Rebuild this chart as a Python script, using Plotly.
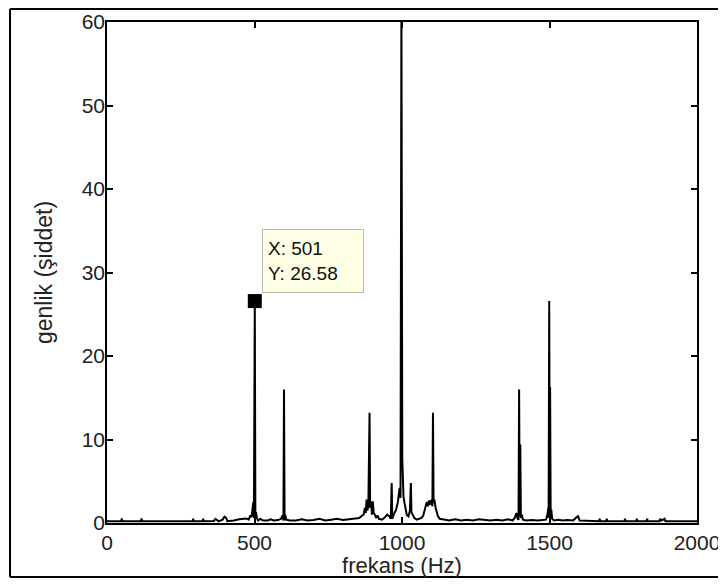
import plotly.graph_objects as go

# Spectrum samples (Hz, amplitude)
freq = [0, 20, 48, 50, 52, 115, 117, 119, 180, 240, 290, 292, 294, 324, 326, 328,
        362, 368, 372, 378, 392, 398, 404, 408, 412, 430, 448, 460, 472, 480, 486,
        490, 494, 496, 498, 501, 503, 505, 508, 512, 520, 530, 545, 555, 565, 580,
        590, 595, 598, 600, 602, 604, 608, 620, 640, 660, 680, 700, 720, 740, 760,
        780, 800, 820, 840, 855, 865, 870, 874, 877, 880, 883, 886, 890, 892, 895,
        898, 901, 904, 908, 912, 917, 922, 932, 942, 950, 957, 962, 965, 967, 972,
        980, 986, 989, 992, 995, 998, 1001, 1003, 1005, 1008, 1012, 1016, 1022,
        1027, 1030, 1032, 1036, 1042, 1050, 1058, 1066, 1072, 1077, 1080, 1084,
        1088, 1092, 1096, 1100, 1103, 1105, 1107, 1110, 1114, 1118, 1122, 1128,
        1140, 1160, 1180, 1200, 1220, 1240, 1260, 1280, 1300, 1320, 1340, 1360,
        1375, 1382, 1388, 1392, 1395, 1397, 1399, 1401, 1403, 1406, 1410, 1420,
        1440, 1460, 1475, 1488, 1493, 1496, 1497, 1499, 1501, 1502, 1504, 1506,
        1509, 1515, 1530, 1545, 1560, 1580, 1592, 1597, 1602, 1630, 1668, 1670,
        1672, 1692, 1694, 1696, 1754, 1756, 1758, 1794, 1796, 1798, 1829, 1831,
        1833, 1873, 1875, 1880, 1890, 1893, 1950, 2000]
amp = [0.2, 0.2, 0.2, 0.55, 0.2, 0.2, 0.55, 0.2, 0.2, 0.25, 0.2, 0.5, 0.2, 0.2, 0.5, 0.2,
       0.25, 0.5, 0.35, 0.2, 0.4, 0.75, 0.6, 0.2, 0.25, 0.3, 0.45, 0.5, 0.55, 0.4, 0.9,
       0.7, 2.5, 2.5, 0.6, 26.58, 0.5, 1.3, 0.6, 0.3, 0.5, 0.3, 0.3, 0.45, 0.3, 0.35,
       0.5, 0.9, 0.3, 16.0, 0.3, 1.0, 0.4, 0.3, 0.3, 0.45, 0.3, 0.35, 0.5, 0.3, 0.4,
       0.5, 0.35, 0.45, 0.5, 0.6, 0.9, 1.0, 1.8, 1.2, 2.8, 1.5, 2.2, 13.2, 1.8, 2.6,
       1.0, 2.6, 1.2, 1.0, 0.6, 0.9, 0.5, 0.4, 0.7, 1.0, 0.8, 0.5, 4.8, 0.5, 1.0,
       1.6, 2.5, 3.2, 4.2, 3.0, 62.0, 7.7, 4.2, 3.2, 2.5, 1.5, 1.0, 0.8,
       1.5, 4.8, 1.3, 1.0, 0.6, 0.4, 0.5, 0.6, 0.9, 1.6, 2.0, 2.5,
       2.0, 2.7, 2.2, 2.8, 2.0, 13.2, 2.4, 2.8, 1.8, 1.2, 0.8, 0.5,
       0.4, 0.3, 0.45, 0.3, 0.4, 0.3, 0.45, 0.35, 0.3, 0.4, 0.3, 0.45,
       0.3, 0.6, 1.2, 0.5, 0.4, 16.0, 0.8, 9.4, 0.6, 1.0, 0.4, 0.3,
       0.35, 0.3, 0.4, 0.4, 1.0, 1.8, 0.6, 26.6, 0.6, 16.3, 0.5, 1.6,
       0.5, 0.3, 0.4, 0.3, 0.35, 0.3, 0.7, 0.8, 0.3, 0.25, 0.2, 0.5,
       0.2, 0.2, 0.5, 0.2, 0.2, 0.5, 0.2, 0.2, 0.5, 0.2, 0.2, 0.5,
       0.2, 0.2, 0.5, 0.3, 0.5, 0.2, 0.2, 0.2]

tip_x = [501]
tip_y = [26.58]

x_ticks = [0, 500, 1000, 1500, 2000]
y_ticks = [0, 10, 20, 30, 40, 50, 60]

FONT = "Liberation Sans"

fig = go.Figure()
fig.add_trace(go.Scatter(x=freq, y=amp, mode="lines",
                         line=dict(color="black", width=2), showlegend=False,
                         hoverinfo="skip"))
fig.add_trace(go.Scatter(x=tip_x, y=tip_y, mode="markers",
                         marker=dict(symbol="square", size=14, color="black"),
                         showlegend=False))

fig.add_annotation(x=525, y=35.2, xref="x", yref="y", xanchor="left", yanchor="top",
                   showarrow=False, align="left",
                   text=f"X: {tip_x[0]}<br>Y: {tip_y[0]:.2f}",
                   font=dict(family=FONT, size=19, color="#111"),
                   bgcolor="#FFFFE6", bordercolor="#BBBBAA", borderwidth=1,
                   borderpad=5, width=90, height=52)

# outer figure frame (four edges)
fx0, fx1, fy0, fy1 = -0.1644, 1.0373, -0.1078, 1.026
frame = dict(color="black", width=2)
for (a, b, c, d) in [(fx0, fy0, fx0, fy1), (fx1, fy0, fx1, fy1),
                     (fx0, fy0, fx1, fy0), (fx0, fy1, fx1, fy1)]:
    fig.add_shape(type="line", xref="paper", yref="paper",
                  x0=a, y0=b, x1=c, y1=d, line=frame)

axis_common = dict(showgrid=False, zeroline=False, showline=True, linecolor="black",
                   linewidth=1.5, mirror="ticks", ticks="inside", ticklen=6,
                   tickwidth=1.5, tickcolor="black",
                   tickfont=dict(family=FONT, size=21, color="#222"))

fig.update_xaxes(range=[0, 2000], tickvals=x_ticks, ticktext=[str(v) for v in x_ticks],
                 title=dict(text="frekans (Hz)", font=dict(family=FONT, size=22, color="#222"),
                            standoff=15),
                 **axis_common)
fig.update_yaxes(range=[0, 60], tickvals=y_ticks, ticktext=[str(v) for v in y_ticks],
                 ticklabelstandoff=-4,
                 title=dict(text="genlik (şiddet)", font=dict(family=FONT, size=23, color="#222"),
                            standoff=23),
                 **axis_common)

fig.update_layout(width=718, height=570, plot_bgcolor="white", paper_bgcolor="white",
                  margin=dict(l=99, r=29, t=14, b=55, autoexpand=False),
                  showlegend=False)

fig.write_html("out.html")
